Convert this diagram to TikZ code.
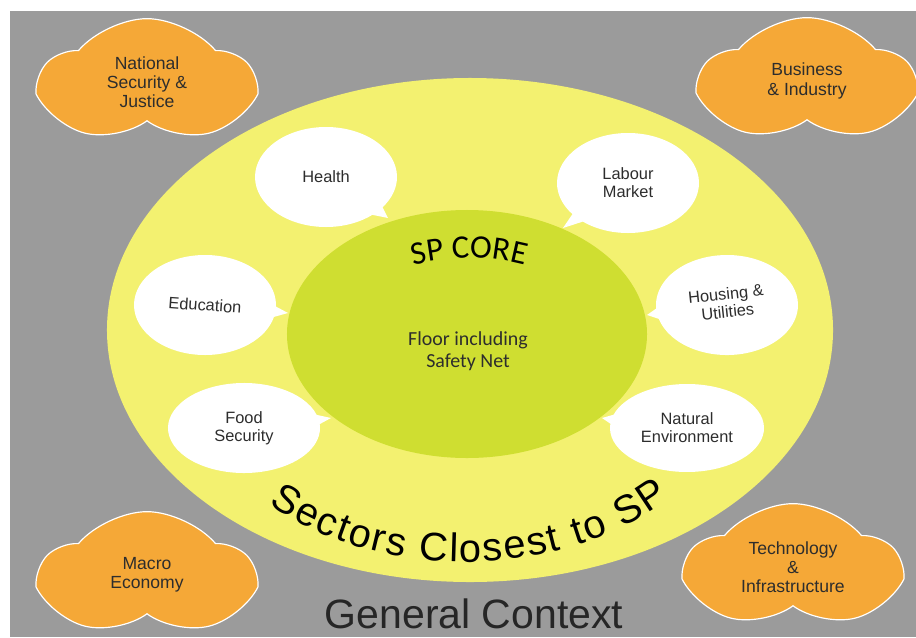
\documentclass[tikz,border=0pt]{standalone}
\usepackage{fontspec}
\setmainfont{Liberation Sans}
\newfontfamily\corefont{Carlito}
\newfontfamily\sectorfont{Liberation Sans}
\usetikzlibrary{shapes.geometric, shapes.symbols, shapes.callouts, decorations.text}

\definecolor{bggray}{RGB}{155,155,155}
\definecolor{sectoryellow}{RGB}{243,241,112}
\definecolor{coregreen}{RGB}{207,222,49}
\definecolor{cloudorange}{RGB}{245,168,55}
\definecolor{textgray}{RGB}{45,45,45}

\begin{document}
\begin{tikzpicture}[x=0.03cm, y=0.03cm,
    every node/.style={inner sep=0pt, text=textgray},
    context/.style={cloud, cloud puffs=5, cloud puff arc=100, aspect=1.9, shape border rotate=90,
        fill=cloudorange, draw=white, line width=1pt,
        minimum width=6.3cm, minimum height=3.8cm, align=center, font=\fontsize{15}{16.3}\selectfont},
    sector/.style={ellipse callout, fill=white, minimum width=4.26cm, minimum height=3cm, callout pointer arc=12,
        align=center, font=\fontsize{14}{15.4}\selectfont}]
    \useasboundingbox (0,0) rectangle (916,-637);
    \fill [white] (0,0) rectangle (916,-637);
    \fill [bggray] (10,-11) rectangle (916,-637);
    \node [ellipse, fill=sectoryellow, minimum width=21.78cm, minimum height=15.12cm] (closest) at (470,-330) {};
    \node [ellipse, fill=coregreen, minimum width=10.8cm, minimum height=7.44cm] (core) at (467,-334) {};
    \node [context] (security) at (147,-82) {National\\Security \&\\Justice};
    \node [context] (business) at (807,-81) {Business\\\& Industry};
    \node [context] (macro) at (147,-575) {Macro\\Economy};
    \node [context] (technology) at (793,-567) {Technology\\\&\\Infrastructure};
    \node [sector, callout absolute pointer={(388,-218)}] (health) at (326,-177) {Health};
    \node [sector, callout absolute pointer={(563,-228)}] (labour) at (628,-183) {Labour\\Market};
    \node [sector, callout absolute pointer={(288,-313)}] (education) at (205,-305) {\rotatebox{-4}{Education}};
    \node [sector, callout absolute pointer={(647,-315)}] (housing) at (727,-305)
        {\rotatebox{6}{\begin{tabular}{@{}c@{}}Housing \&\\Utilities\end{tabular}}};
    \node [sector, minimum width=4.56cm, minimum height=2.7cm, callout absolute pointer={(331,-418)}] (food) at (244,-428) {Food\\Security};
    \node [sector, minimum width=4.62cm, minimum height=2.64cm, callout absolute pointer={(602,-418)}] (natural) at (687,-428) {Natural\\Environment};
    \node [font=\corefont\fontsize{17}{19}\selectfont, align=center] (floor) at (468,-351) {Floor including\\Safety Net};
    \path [decorate, decoration={text along path, text align=fit to path, text color=black,
        text={|\sectorfont\fontsize{34}{38}\selectfont|Sectors Closest to SP}}]
        (465,-327) ++(-131:300 and 235) arc [start angle=-131, end angle=-47, x radius=300, y radius=235];
    \path [decorate, decoration={text along path, text align=center, text color=black,
        text={|\corefont\fontsize{28}{30}\selectfont|SP CORE}}]
        (469,-474) ++(125:216) arc [start angle=125, end angle=55, radius=216];
    \node [anchor=base, text=black!85, font=\fontsize{35}{40}\selectfont] (context) at (474,-628) {General Context};
\end{tikzpicture}
\end{document}
